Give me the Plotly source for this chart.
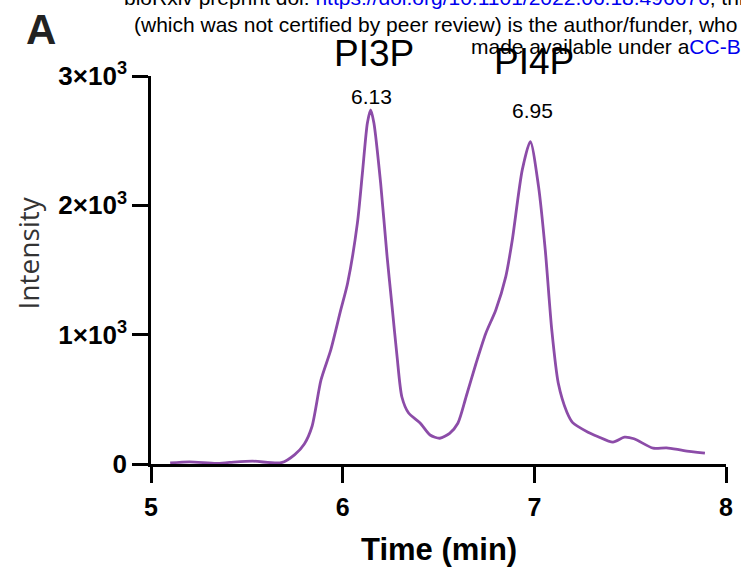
import plotly.graph_objects as go

# ---- data ----
time_min = [5.10, 5.20, 5.34, 5.41, 5.53, 5.68, 5.75, 5.80, 5.84, 5.887, 5.938, 5.990,
            6.026, 6.077, 6.103, 6.129, 6.146, 6.163, 6.198, 6.232, 6.258, 6.284, 6.309,
            6.344, 6.404, 6.456, 6.507, 6.558, 6.601, 6.644, 6.696, 6.747, 6.799, 6.851,
            6.885, 6.937, 6.979, 7.022, 7.057, 7.091, 7.125, 7.17, 7.20, 7.28, 7.33,
            7.41, 7.47, 7.52, 7.62, 7.69, 7.78, 7.89]
intensity = [8, 17, 5, 12, 22, 10, 73, 155, 290, 650, 882, 1191,
             1400, 1864, 2250, 2637, 2738, 2637, 2173, 1601, 1214, 828, 518,
             394, 317, 224, 199, 237, 315, 520, 779, 1011, 1191, 1449,
             1732, 2274, 2493, 2145, 1655, 1036, 624, 400, 320, 246, 213,
             169, 207, 195, 122, 125, 104, 84]

peak_names = ["PI3P", "PI4P"]
peak_times = [6.13, 6.95]

y_tickvals = [0, 1000, 2000, 3000]
y_ticktext = ["0", "1×10<sup>3</sup>", "2×10<sup>3</sup>", "3×10<sup>3</sup>"]
x_tickvals = [5, 6, 7, 8]

# ---- layout helpers ----
W, H = 741, 573
L, R, T, B = 151, 8, 76, 109
PW, PH = W - L - R, H - T - B


def px_x(px):
    return (px - L) / PW


def px_y(py):
    return (H - B - py) / PH


FONT = "Liberation Sans, Arial, sans-serif"
LINE_COLOR = "#8C4CA8"

fig = go.Figure()
fig.add_trace(go.Scatter(
    x=time_min, y=intensity, mode="lines",
    line=dict(color=LINE_COLOR, width=2.8, shape="spline", smoothing=0.7),
    showlegend=False, hoverinfo="skip",
))

annotations = []
# peak labels
peak_name_px = [(377, 54), (539, 62)]
peak_time_px = [(374, 96), (537, 110)]
for name, t, (nx, ny), (tx, ty) in zip(peak_names, peak_times, peak_name_px, peak_time_px):
    annotations.append(dict(text=name, xref="paper", yref="paper", x=px_x(nx), y=px_y(ny),
                            xanchor="center", yanchor="middle", showarrow=False,
                            font=dict(family=FONT, size=37, color="black")))
    annotations.append(dict(text=f"{t:.2f}", xref="paper", yref="paper", x=px_x(tx), y=px_y(ty),
                            xanchor="center", yanchor="middle", showarrow=False,
                            font=dict(family=FONT, size=21, color="black")))

# axis titles
annotations.append(dict(text="<b>Time (min)</b>", xref="paper", yref="paper",
                        x=px_x(442), y=px_y(549), xanchor="center", yanchor="middle",
                        showarrow=False, font=dict(family=FONT, size=31, color="black")))
annotations.append(dict(text="Intensity", xref="paper", yref="paper",
                        x=px_x(27), y=px_y(253), xanchor="center", yanchor="middle",
                        textangle=-90, showarrow=False,
                        font=dict(family="Open Sans, sans-serif", size=28, color="#333333")))
# panel letter
annotations.append(dict(text="<b>A</b>", xref="paper", yref="paper",
                        x=px_x(40), y=px_y(30), xanchor="center", yanchor="middle",
                        showarrow=False, font=dict(family=FONT, size=42, color="#222222")))

# bioRxiv header text (cropped in the reference)
BLUE = "#0000EE"
HFS = 21
annotations.append(dict(
    text="bioRxiv preprint doi: <span style='color:%s'>https://doi.org/10.1101/2022.06.18.496676</span>; this version posted" % BLUE,
    xref="paper", yref="paper", x=px_x(122), y=px_y(-3), xanchor="left", yanchor="middle",
    showarrow=False, font=dict(family=FONT, size=HFS, color="black")))
annotations.append(dict(
    text="(which was not certified by peer review) is the author/funder, who has granted",
    xref="paper", yref="paper", x=px_x(132), y=px_y(24), xanchor="left", yanchor="middle",
    showarrow=False, font=dict(family=FONT, size=HFS, color="black")))
annotations.append(dict(
    text="made available under a<span style='color:%s'>CC-BY-NC-ND 4.0 International license</span>" % BLUE,
    xref="paper", yref="paper", x=px_x(473), y=px_y(46), xanchor="left", yanchor="middle",
    showarrow=False, font=dict(family=FONT, size=HFS, color="black")))

axis_common = dict(
    showgrid=False, zeroline=False, showline=True, linewidth=2.5, linecolor="black",
    ticks="outside", ticklen=16, tickwidth=2.5, tickcolor="black",
)

fig.update_layout(
    width=W, height=H,
    margin=dict(l=L, r=R, t=T, b=B, pad=0),
    paper_bgcolor="white", plot_bgcolor="white",
    xaxis=dict(range=[5, 8], tickvals=x_tickvals, ticktext=[str(v) for v in x_tickvals],
               tickfont=dict(family=FONT, size=25, color="black", weight="bold"),
               ticklabelstandoff=3, **axis_common),
    yaxis=dict(range=[0, 3000], tickvals=y_tickvals, ticktext=y_ticktext,
               tickfont=dict(family=FONT, size=26, color="black", weight="bold"),
               **axis_common),
    annotations=annotations,
    showlegend=False,
)

fig.write_html("out.html", config={"displayModeBar": False},
               post_script="document.body.style.margin='0px';document.body.style.padding='0px';")
